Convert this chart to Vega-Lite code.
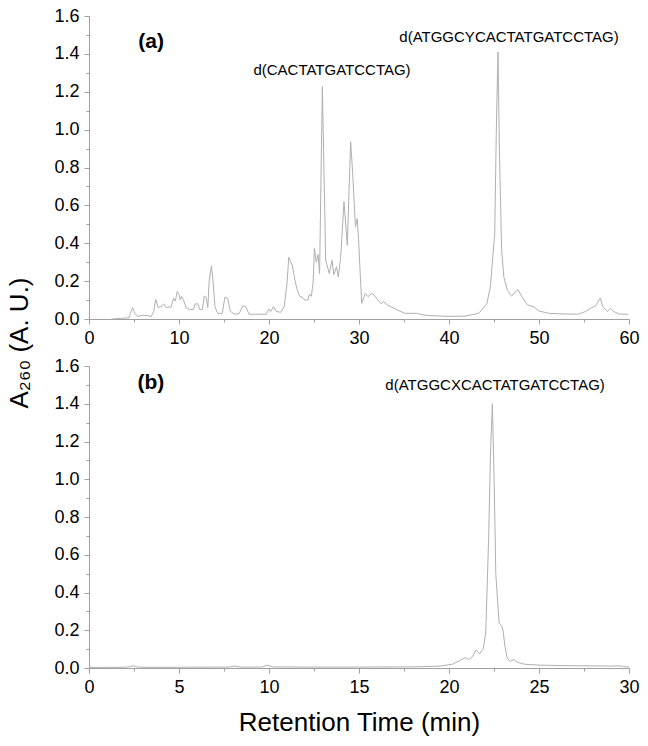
{
  "$schema": "https://vega.github.io/schema/vega-lite/v6.json",
  "padding": {"left": 6, "top": 7, "right": 5, "bottom": 5},
  "background": "white",
  "title": {"text": "A₂₆₀ (A. U.)", "orient": "left", "anchor": "middle", "font": "Liberation Sans", "fontSize": 26, "fontWeight": "normal", "color": "black", "offset": 21, "dx": 28},
  "spacing": 47,
  "bounds": "flush",
  "datasets": {
    "a": [
      {"t": 2.5, "v": 0.0}, {"t": 3.5, "v": 0.003}, {"t": 4.44, "v": 0.006}, {"t": 4.6, "v": 0.03}, {"t": 4.85, "v": 0.06}, {"t": 5.1, "v": 0.03}, {"t": 5.4, "v": 0.013}, {"t": 6.0, "v": 0.02}, {"t": 6.5, "v": 0.018}, {"t": 6.9, "v": 0.013}, {"t": 7.2, "v": 0.04}, {"t": 7.4, "v": 0.104}, {"t": 7.7, "v": 0.06}, {"t": 8.0, "v": 0.066}, {"t": 8.3, "v": 0.08}, {"t": 8.6, "v": 0.06}, {"t": 8.9, "v": 0.065}, {"t": 9.1, "v": 0.06}, {"t": 9.4, "v": 0.11}, {"t": 9.6, "v": 0.095}, {"t": 9.8, "v": 0.145}, {"t": 10.0, "v": 0.13}, {"t": 10.15, "v": 0.1}, {"t": 10.3, "v": 0.12}, {"t": 10.5, "v": 0.1}, {"t": 10.8, "v": 0.06}, {"t": 11.2, "v": 0.05}, {"t": 11.6, "v": 0.05}, {"t": 11.8, "v": 0.08}, {"t": 12.1, "v": 0.08}, {"t": 12.3, "v": 0.05}, {"t": 12.6, "v": 0.05}, {"t": 12.8, "v": 0.12}, {"t": 13.0, "v": 0.115}, {"t": 13.2, "v": 0.06}, {"t": 13.35, "v": 0.2}, {"t": 13.6, "v": 0.28}, {"t": 13.8, "v": 0.19}, {"t": 14.0, "v": 0.065}, {"t": 14.3, "v": 0.03}, {"t": 14.8, "v": 0.03}, {"t": 15.1, "v": 0.115}, {"t": 15.4, "v": 0.11}, {"t": 15.7, "v": 0.04}, {"t": 16.2, "v": 0.025}, {"t": 16.7, "v": 0.03}, {"t": 17.1, "v": 0.07}, {"t": 17.4, "v": 0.065}, {"t": 17.8, "v": 0.025}, {"t": 18.4, "v": 0.025}, {"t": 19.7, "v": 0.025}, {"t": 20.0, "v": 0.053}, {"t": 20.2, "v": 0.04}, {"t": 20.5, "v": 0.065}, {"t": 20.8, "v": 0.04}, {"t": 21.3, "v": 0.035}, {"t": 21.7, "v": 0.066}, {"t": 22.0, "v": 0.19}, {"t": 22.2, "v": 0.326}, {"t": 22.6, "v": 0.28}, {"t": 22.9, "v": 0.2}, {"t": 23.1, "v": 0.16}, {"t": 23.4, "v": 0.12}, {"t": 23.7, "v": 0.115}, {"t": 24.0, "v": 0.1}, {"t": 24.3, "v": 0.1}, {"t": 24.5, "v": 0.13}, {"t": 24.7, "v": 0.12}, {"t": 24.9, "v": 0.19}, {"t": 25.05, "v": 0.373}, {"t": 25.25, "v": 0.3}, {"t": 25.45, "v": 0.34}, {"t": 25.62, "v": 0.24}, {"t": 25.93, "v": 1.227}, {"t": 26.3, "v": 0.31}, {"t": 26.7, "v": 0.24}, {"t": 27.0, "v": 0.31}, {"t": 27.2, "v": 0.235}, {"t": 27.5, "v": 0.276}, {"t": 27.7, "v": 0.223}, {"t": 27.97, "v": 0.33}, {"t": 28.33, "v": 0.62}, {"t": 28.7, "v": 0.39}, {"t": 29.07, "v": 0.936}, {"t": 29.3, "v": 0.77}, {"t": 29.6, "v": 0.487}, {"t": 29.8, "v": 0.53}, {"t": 29.95, "v": 0.42}, {"t": 30.3, "v": 0.083}, {"t": 30.7, "v": 0.135}, {"t": 31.0, "v": 0.118}, {"t": 31.4, "v": 0.135}, {"t": 31.7, "v": 0.125}, {"t": 32.1, "v": 0.1}, {"t": 32.5, "v": 0.08}, {"t": 32.7, "v": 0.092}, {"t": 33.2, "v": 0.073}, {"t": 34.3, "v": 0.047}, {"t": 35.1, "v": 0.03}, {"t": 36.4, "v": 0.03}, {"t": 37.2, "v": 0.021}, {"t": 37.9, "v": 0.018}, {"t": 39.8, "v": 0.014}, {"t": 41.8, "v": 0.015}, {"t": 43.3, "v": 0.03}, {"t": 44.2, "v": 0.08}, {"t": 44.6, "v": 0.17}, {"t": 44.9, "v": 0.35}, {"t": 45.08, "v": 0.45}, {"t": 45.25, "v": 0.98}, {"t": 45.44, "v": 1.41}, {"t": 45.6, "v": 0.89}, {"t": 45.85, "v": 0.36}, {"t": 46.1, "v": 0.22}, {"t": 46.5, "v": 0.15}, {"t": 46.96, "v": 0.12}, {"t": 47.3, "v": 0.14}, {"t": 47.67, "v": 0.155}, {"t": 48.07, "v": 0.12}, {"t": 48.7, "v": 0.075}, {"t": 49.4, "v": 0.065}, {"t": 50.0, "v": 0.042}, {"t": 51.1, "v": 0.03}, {"t": 52.96, "v": 0.026}, {"t": 54.4, "v": 0.026}, {"t": 55.2, "v": 0.04}, {"t": 55.7, "v": 0.056}, {"t": 56.3, "v": 0.07}, {"t": 56.8, "v": 0.11}, {"t": 57.1, "v": 0.065}, {"t": 57.6, "v": 0.04}, {"t": 57.96, "v": 0.056}, {"t": 58.3, "v": 0.04}, {"t": 58.9, "v": 0.026}, {"t": 59.9, "v": 0.025}
    ],
    "b": [
      {"t": 0.0, "v": 0.003}, {"t": 2.0, "v": 0.004}, {"t": 2.3, "v": 0.008}, {"t": 2.5, "v": 0.012}, {"t": 2.7, "v": 0.005}, {"t": 3.0, "v": 0.004}, {"t": 5.0, "v": 0.004}, {"t": 7.8, "v": 0.005}, {"t": 8.1, "v": 0.01}, {"t": 8.4, "v": 0.005}, {"t": 9.6, "v": 0.005}, {"t": 9.9, "v": 0.015}, {"t": 10.2, "v": 0.006}, {"t": 12.0, "v": 0.005}, {"t": 15.0, "v": 0.005}, {"t": 18.0, "v": 0.006}, {"t": 19.5, "v": 0.01}, {"t": 20.2, "v": 0.02}, {"t": 20.6, "v": 0.04}, {"t": 20.9, "v": 0.055}, {"t": 21.1, "v": 0.045}, {"t": 21.3, "v": 0.06}, {"t": 21.5, "v": 0.095}, {"t": 21.7, "v": 0.075}, {"t": 21.9, "v": 0.1}, {"t": 22.04, "v": 0.185}, {"t": 22.2, "v": 0.68}, {"t": 22.3, "v": 1.12}, {"t": 22.41, "v": 1.4}, {"t": 22.5, "v": 1.03}, {"t": 22.6, "v": 0.5}, {"t": 22.78, "v": 0.24}, {"t": 22.93, "v": 0.22}, {"t": 23.0, "v": 0.2}, {"t": 23.11, "v": 0.113}, {"t": 23.24, "v": 0.05}, {"t": 23.4, "v": 0.035}, {"t": 23.6, "v": 0.045}, {"t": 23.8, "v": 0.03}, {"t": 24.2, "v": 0.02}, {"t": 25.0, "v": 0.015}, {"t": 27.0, "v": 0.012}, {"t": 29.0, "v": 0.01}, {"t": 29.4, "v": 0.012}, {"t": 29.7, "v": 0.008}, {"t": 30.0, "v": 0.005}
    ],
    "la": [
      {"t": 27.0, "v": 1.315, "label": "d(CACTATGATCCTAG)"},
      {"t": 46.67, "v": 1.489, "label": "d(ATGGCYCACTATGATCCTAG)"}
    ],
    "pa": [{"t": 6.9, "v": 1.463, "label": "(a)"}],
    "lb": [{"t": 22.56, "v": 1.499, "label": "d(ATGGCXCACTATGATCCTAG)"}],
    "pb": [{"t": 3.44, "v": 1.51, "label": "(b)"}]
  },
  "vconcat": [
    {
      "width": 540,
      "height": 303,
      "layer": [
        {
          "data": {"name": "a"},
          "mark": {"type": "line", "color": "#b0b0b0", "strokeWidth": 1},
          "encoding": {
            "x": {"field": "t", "type": "quantitative", "scale": {"domain": [0, 60], "nice": false}, "axis": {"values": [0, 10, 20, 30, 40, 50, 60], "title": null}},
            "y": {"field": "v", "type": "quantitative", "scale": {"domain": [0, 1.6], "nice": false}, "axis": {"values": [0, 0.2, 0.4, 0.6, 0.8, 1.0, 1.2, 1.4, 1.6], "format": ".1f", "title": null}}
          }
        },
        {
          "data": {"name": "a"},
          "mark": {"type": "point", "opacity": 0},
          "encoding": {
            "x": {"field": "t", "type": "quantitative", "axis": {"values": [5, 15, 25, 35, 45, 55], "labels": false, "domain": false, "tickSize": 3, "orient": "bottom", "title": null}},
            "y": {"field": "v", "type": "quantitative", "axis": {"values": [0.1, 0.3, 0.5, 0.7, 0.9, 1.1, 1.3, 1.5], "labels": false, "domain": false, "tickSize": 3, "orient": "left", "title": null}}
          }
        },
        {
          "data": {"name": "la"},
          "mark": {"type": "text", "font": "Liberation Sans", "fontSize": 15, "color": "black", "align": "center", "baseline": "middle"},
          "encoding": {
            "x": {"field": "t", "type": "quantitative", "axis": null},
            "y": {"field": "v", "type": "quantitative", "axis": null},
            "text": {"field": "label"}
          }
        },
        {
          "data": {"name": "pa"},
          "mark": {"type": "text", "font": "Liberation Sans", "fontSize": 21, "fontWeight": "bold", "color": "black", "align": "center", "baseline": "middle"},
          "encoding": {
            "x": {"field": "t", "type": "quantitative", "axis": null},
            "y": {"field": "v", "type": "quantitative", "axis": null},
            "text": {"field": "label"}
          }
        }
      ],
      "resolve": {"axis": {"x": "independent", "y": "independent"}}
    },
    {
      "width": 540,
      "height": 302,
      "layer": [
        {
          "data": {"name": "b"},
          "mark": {"type": "line", "color": "#b0b0b0", "strokeWidth": 1},
          "encoding": {
            "x": {"field": "t", "type": "quantitative", "scale": {"domain": [0, 30], "nice": false}, "axis": {"values": [0, 5, 10, 15, 20, 25, 30], "title": "Retention Time (min)", "titlePadding": 13}},
            "y": {"field": "v", "type": "quantitative", "scale": {"domain": [0, 1.6], "nice": false}, "axis": {"values": [0, 0.2, 0.4, 0.6, 0.8, 1.0, 1.2, 1.4, 1.6], "format": ".1f", "title": null}}
          }
        },
        {
          "data": {"name": "b"},
          "mark": {"type": "point", "opacity": 0},
          "encoding": {
            "x": {"field": "t", "type": "quantitative", "axis": {"values": [2.5, 7.5, 12.5, 17.5, 22.5, 27.5], "labels": false, "domain": false, "tickSize": 3, "orient": "bottom", "title": null}},
            "y": {"field": "v", "type": "quantitative", "axis": {"values": [0.1, 0.3, 0.5, 0.7, 0.9, 1.1, 1.3, 1.5], "labels": false, "domain": false, "tickSize": 3, "orient": "left", "title": null}}
          }
        },
        {
          "data": {"name": "lb"},
          "mark": {"type": "text", "font": "Liberation Sans", "fontSize": 15, "color": "black", "align": "center", "baseline": "middle"},
          "encoding": {
            "x": {"field": "t", "type": "quantitative", "axis": null},
            "y": {"field": "v", "type": "quantitative", "axis": null},
            "text": {"field": "label"}
          }
        },
        {
          "data": {"name": "pb"},
          "mark": {"type": "text", "font": "Liberation Sans", "fontSize": 21, "fontWeight": "bold", "color": "black", "align": "center", "baseline": "middle"},
          "encoding": {
            "x": {"field": "t", "type": "quantitative", "axis": null},
            "y": {"field": "v", "type": "quantitative", "axis": null},
            "text": {"field": "label"}
          }
        }
      ],
      "resolve": {"axis": {"x": "independent", "y": "independent"}}
    }
  ],
  "config": {
    "view": {"stroke": null},
    "axis": {
      "grid": false,
      "domainColor": "#a0a0a0",
      "tickColor": "#a0a0a0",
      "tickSize": 5,
      "labelColor": "black",
      "labelFont": "Liberation Sans",
      "labelFontSize": 18,
      "labelPadding": 5,
      "titleFont": "Liberation Sans",
      "titleFontSize": 26,
      "titleFontWeight": "normal",
      "titleColor": "black",
      "titlePadding": 10,
      "labelFlush": false,
      "labelOverlap": false
    }
  }
}
